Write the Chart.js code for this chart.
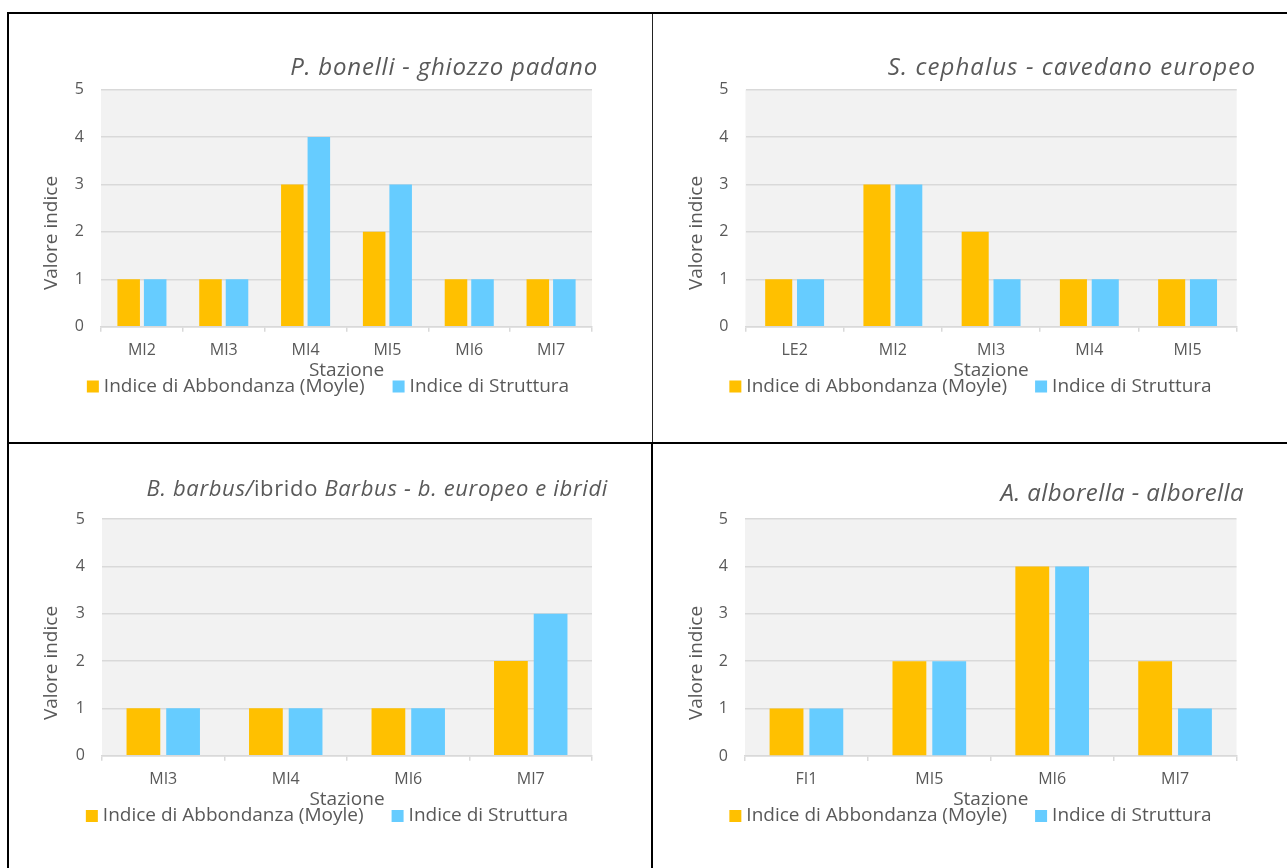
<!DOCTYPE html>
<html>
<head>
<meta charset="utf-8">
<script src="https://cdn.jsdelivr.net/npm/chart.js@4.4.1/dist/chart.umd.min.js"></script>
<style>
  html, body { margin: 0; padding: 0; background: #fff; }
  body { width: 1287px; height: 868px; position: relative; overflow: hidden; }
  .cell { position: absolute; }
  .cell canvas { display: block; }
  .rule { position: absolute; background: #000; }
</style>
</head>
<body>
<!-- table rules -->
<div class="rule" style="left:7px;top:12px;width:1280px;height:2px"></div>
<div class="rule" style="left:7px;top:12px;width:2px;height:856px"></div>
<div class="rule" style="left:652px;top:14px;width:1px;height:428px;background:#222"></div>
<div class="rule" style="left:651px;top:442px;width:2px;height:426px"></div>
<div class="rule" style="left:7px;top:442px;width:1280px;height:2px"></div>

<div class="cell" style="left:9px;top:14px"><canvas id="c1"></canvas></div>
<div class="cell" style="left:653px;top:14px"><canvas id="c2"></canvas></div>
<div class="cell" style="left:9px;top:444px"><canvas id="c3"></canvas></div>
<div class="cell" style="left:653px;top:444px"><canvas id="c4"></canvas></div>

<script>
// Stations and index values per species
const stazioniBonelli = ['MI2', 'MI3', 'MI4', 'MI5', 'MI6', 'MI7'];
const abbondanzaBonelli = [1, 1, 3, 2, 1, 1];
const strutturaBonelli = [1, 1, 4, 3, 1, 1];

const stazioniCephalus = ['LE2', 'MI2', 'MI3', 'MI4', 'MI5'];
const abbondanzaCephalus = [1, 3, 2, 1, 1];
const strutturaCephalus = [1, 3, 1, 1, 1];

const stazioniBarbus = ['MI3', 'MI4', 'MI6', 'MI7'];
const abbondanzaBarbus = [1, 1, 1, 2];
const strutturaBarbus = [1, 1, 1, 3];

const stazioniAlborella = ['FI1', 'MI5', 'MI6', 'MI7'];
const abbondanzaAlborella = [1, 2, 4, 2];
const strutturaAlborella = [1, 2, 4, 1];

const valoreTicks = [0, 1, 2, 3, 4, 5];

const serieLabels = ['Indice di Abbondanza (Moyle)', 'Indice di Struttura'];
const serieColors = ['#FFC000', '#66CCFF'];

const FONT = "'Open Sans', sans-serif";
const TEXT = '#595959';
const GRID = '#d9d9d9';

Chart.defaults.font.family = FONT;
Chart.defaults.color = TEXT;

// background of the plot area, titles, y-axis title and legend
const decor = {
  id: 'decor',
  beforeDraw(chart, args, o) {
    const { ctx, chartArea: a } = chart;
    ctx.save();
    ctx.fillStyle = '#f2f2f2';
    ctx.fillRect(a.left, a.top, a.right - a.left, a.bottom - a.top);
    ctx.restore();
  },
  afterDraw(chart, args, o) {
    const ctx = chart.ctx;
    const ox = o.cell.x, oy = o.cell.y;
    ctx.save();
    ctx.fillStyle = TEXT;
    ctx.textBaseline = 'middle';

    // chart title (runs may switch between italic and upright)
    const fontOf = (r) => (r.italic ? 'italic ' : '') + o.title.size + 'px ' + FONT;
    if ('letterSpacing' in ctx) ctx.letterSpacing = o.title.spacing + 'px';
    let total = 0;
    o.title.runs.forEach(r => { ctx.font = fontOf(r); total += ctx.measureText(r.text).width; });
    let x = o.title.right - ox - total;
    o.title.runs.forEach(r => {
      ctx.font = fontOf(r);
      ctx.textAlign = 'left';
      ctx.fillText(r.text, x, o.title.y - oy);
      x += ctx.measureText(r.text).width;
    });
    if ('letterSpacing' in ctx) ctx.letterSpacing = '0px';

    // y-axis title
    ctx.save();
    ctx.translate(o.yTitle.x - ox, o.yTitle.y - oy);
    ctx.rotate(-Math.PI / 2);
    ctx.font = '19px ' + FONT;
    ctx.textAlign = 'center';
    ctx.fillText('Valore indice', 0, 0);
    ctx.restore();

    // legend
    ctx.font = '19px ' + FONT;
    const box = 12, gap = 5, itemGap = 28;
    const items = chart.data.datasets.map(d => ({ text: d.label, color: d.backgroundColor, w: ctx.measureText(d.label).width }));
    let width = 0;
    items.forEach((it, i) => { width += box + gap + it.w + (i ? itemGap : 0); });
    let lx = o.legend.x - ox - width / 2;
    const ly = o.legend.y - oy;
    items.forEach(it => {
      ctx.fillStyle = it.color;
      ctx.fillRect(lx, ly - box / 2, box, box);
      ctx.fillStyle = TEXT;
      ctx.textAlign = 'left';
      ctx.fillText(it.text, lx + box + gap, ly);
      lx += box + gap + it.w + itemGap;
    });
    ctx.restore();
  }
};

function makeChart(id, cell, plot, cats, abb, str, title, yTitle, legend) {
  const el = document.getElementById(id);
  el.width = cell.w;
  el.height = cell.h;
  const xAxisH = 55;
  return new Chart(el, {
    type: 'bar',
    data: {
      labels: cats,
      datasets: [
        { label: serieLabels[0], data: abb, backgroundColor: serieColors[0] },
        { label: serieLabels[1], data: str, backgroundColor: serieColors[1] }
      ]
    },
    options: {
      responsive: false,
      animation: false,
      events: [],
      layout: {
        padding: {
          top: plot.t - cell.y,
          right: cell.x + cell.w - plot.r,
          bottom: cell.y + cell.h - plot.b - xAxisH,
          left: 0
        }
      },
      datasets: { bar: { categoryPercentage: 0.648, barPercentage: 0.85 } },
      plugins: {
        legend: { display: false },
        tooltip: { enabled: false },
        decor: { cell, title, yTitle, legend }
      },
      scales: {
        x: {
          grid: { display: true, drawOnChartArea: false, drawTicks: true, tickLength: 5, color: GRID, lineWidth: 1.5, offset: true },
          border: { display: true, color: GRID, width: 1.5 },
          ticks: { padding: 9, color: TEXT, font: { size: 16 }, maxRotation: 0 },
          title: { display: true, text: 'Stazione', color: TEXT, font: { size: 19 }, padding: { top: 0, bottom: 0 } },
          afterFit(s) { s.height = xAxisH; }
        },
        y: {
          min: 0, max: 5,
          afterBuildTicks(s) { s.ticks = valoreTicks.map(v => ({ value: v })); },
          ticks: { padding: 17, color: TEXT, font: { size: 16 } },
          grid: { color: GRID, lineWidth: 1.5, drawTicks: false },
          border: { display: false },
          afterFit(s) { s.width = plot.l - cell.x; }
        }
      }
    },
    plugins: [decor]
  });
}

makeChart('c1',
  { x: 9, y: 14, w: 642, h: 428 },
  { l: 101, r: 592, t: 89.5, b: 326.7 },
  stazioniBonelli, abbondanzaBonelli, strutturaBonelli,
  { runs: [{ text: 'P. bonelli - ghiozzo padano', italic: true }], right: 598, y: 68, size: 24, spacing: 0.8 },
  { x: 52, y: 233 },
  { x: 328, y: 386.5 });

makeChart('c2',
  { x: 653, y: 14, w: 634, h: 428 },
  { l: 745.5, r: 1236.7, t: 89.5, b: 326.7 },
  stazioniCephalus, abbondanzaCephalus, strutturaCephalus,
  { runs: [{ text: 'S. cephalus - cavedano europeo', italic: true }], right: 1256, y: 68, size: 24, spacing: 1.1 },
  { x: 697, y: 233 },
  { x: 970.5, y: 386.5 });

makeChart('c3',
  { x: 9, y: 444, w: 642, h: 424 },
  { l: 102, r: 592, t: 519, b: 755.7 },
  stazioniBarbus, abbondanzaBarbus, strutturaBarbus,
  { runs: [
      { text: 'B. barbus/', italic: true },
      { text: 'ibrido ', italic: false },
      { text: 'Barbus - b. europeo e ibridi', italic: true }
    ], right: 608, y: 490, size: 22, spacing: 0.65 },
  { x: 52, y: 663 },
  { x: 327, y: 816 });

makeChart('c4',
  { x: 653, y: 444, w: 634, h: 424 },
  { l: 745, r: 1236.5, t: 519, b: 756 },
  stazioniAlborella, abbondanzaAlborella, strutturaAlborella,
  { runs: [{ text: 'A. alborella - alborella', italic: true }], right: 1244, y: 494, size: 24, spacing: 0.4 },
  { x: 697, y: 663 },
  { x: 970.5, y: 816 });
</script>
</body>
</html>
